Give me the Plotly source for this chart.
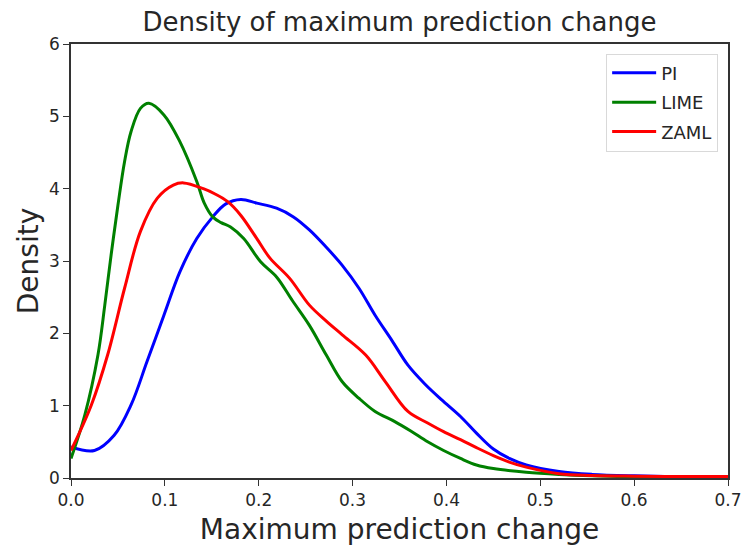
import plotly.graph_objects as go

pi_x = [0, 0.025, 0.046, 0.064, 0.081, 0.099, 0.116, 0.134, 0.151, 0.165, 0.181, 0.198, 0.219, 0.237, 0.254, 0.272, 0.289, 0.307, 0.324, 0.342, 0.359, 0.377, 0.395, 0.415, 0.432, 0.45, 0.467, 0.485, 0.52, 0.555, 0.6, 0.65, 0.7]
pi_y = [0.43, 0.38, 0.59, 1.01, 1.61, 2.25, 2.85, 3.31, 3.61, 3.79, 3.85, 3.80, 3.73, 3.61, 3.43, 3.19, 2.94, 2.62, 2.25, 1.90, 1.56, 1.30, 1.08, 0.85, 0.62, 0.40, 0.27, 0.18, 0.09, 0.05, 0.03, 0.02, 0.02]

lime_x = [0, 0.0147, 0.0287, 0.036, 0.0427, 0.05, 0.057, 0.064, 0.074, 0.083, 0.099, 0.116, 0.134, 0.142, 0.151, 0.160, 0.170, 0.184, 0.202, 0.219, 0.236, 0.254, 0.272, 0.289, 0.307, 0.324, 0.345, 0.362, 0.380, 0.397, 0.415, 0.432, 0.45, 0.485, 0.52, 0.555, 0.6, 0.65, 0.7]
lime_y = [0.27, 0.87, 1.70, 2.39, 3.08, 3.77, 4.37, 4.79, 5.11, 5.18, 5.02, 4.65, 4.10, 3.80, 3.61, 3.53, 3.47, 3.31, 2.99, 2.78, 2.45, 2.11, 1.70, 1.33, 1.10, 0.92, 0.78, 0.65, 0.50, 0.38, 0.27, 0.18, 0.13, 0.08, 0.05, 0.03, 0.015, 0.01, 0.01]

zaml_x = [0, 0.0217, 0.039, 0.057, 0.074, 0.092, 0.109, 0.120, 0.141, 0.153, 0.167, 0.181, 0.198, 0.212, 0.233, 0.254, 0.272, 0.289, 0.314, 0.335, 0.359, 0.380, 0.397, 0.415, 0.432, 0.45, 0.467, 0.485, 0.52, 0.555, 0.6, 0.65, 0.7]
zaml_y = [0.38, 1.01, 1.70, 2.62, 3.41, 3.87, 4.05, 4.08, 4.00, 3.93, 3.82, 3.63, 3.31, 3.04, 2.76, 2.39, 2.17, 1.98, 1.70, 1.33, 0.92, 0.76, 0.64, 0.53, 0.42, 0.31, 0.22, 0.15, 0.06, 0.035, 0.025, 0.02, 0.02]

x_ticks = [0, 0.1, 0.2, 0.3, 0.4, 0.5, 0.6, 0.7]
x_tick_text = ["0.0", "0.1", "0.2", "0.3", "0.4", "0.5", "0.6", "0.7"]
y_ticks = [0, 1, 2, 3, 4, 5, 6]

series = [("PI", pi_x, pi_y, "#0000ff"), ("LIME", lime_x, lime_y, "#008000"), ("ZAML", zaml_x, zaml_y, "#ff0000")]

fig = go.Figure()
for name, xs, ys, col in series:
    fig.add_trace(go.Scatter(x=xs, y=ys, mode="lines", name=name, legendgroup=name,
                             line=dict(color=col, width=3, shape="spline", smoothing=1.0)))

font = "DejaVu Sans"
txt = "#262626"
fig.update_layout(
    width=754, height=552,
    margin=dict(l=71, r=16, t=44, b=72),
    paper_bgcolor="white", plot_bgcolor="white",
    font=dict(family=font, color=txt),
    title=dict(text="Density of maximum prediction change", x=0.5, xref="paper", xanchor="center",
               y=1 - 22 / 552, yref="container", yanchor="middle", font=dict(size=26, color=txt)),
    showlegend=True,
    legend=dict(x=0.985, y=0.978, xanchor="right", yanchor="top", bgcolor="white",
                bordercolor="#d9d9d9", borderwidth=1, font=dict(size=18, color=txt),
                tracegroupgap=3, itemwidth=44),
    xaxis=dict(range=[0, 0.7], tickvals=x_ticks, ticktext=x_tick_text,
               showgrid=False, zeroline=False, showline=True, linecolor="#333", linewidth=1.5, mirror=True,
               ticks="outside", ticklen=6, tickcolor="#333", tickfont=dict(size=17, color=txt),
               title=dict(text="Maximum prediction change", font=dict(size=28, color=txt), standoff=10)),
    yaxis=dict(range=[0, 6], tickvals=y_ticks,
               showgrid=False, zeroline=False, showline=True, linecolor="#333", linewidth=1.5, mirror=True,
               ticks="outside", ticklen=6, tickcolor="#333", tickfont=dict(size=17, color=txt),
               title=dict(text="Density", font=dict(size=28, color=txt), standoff=2)),
)
fig.write_html("out.html")
